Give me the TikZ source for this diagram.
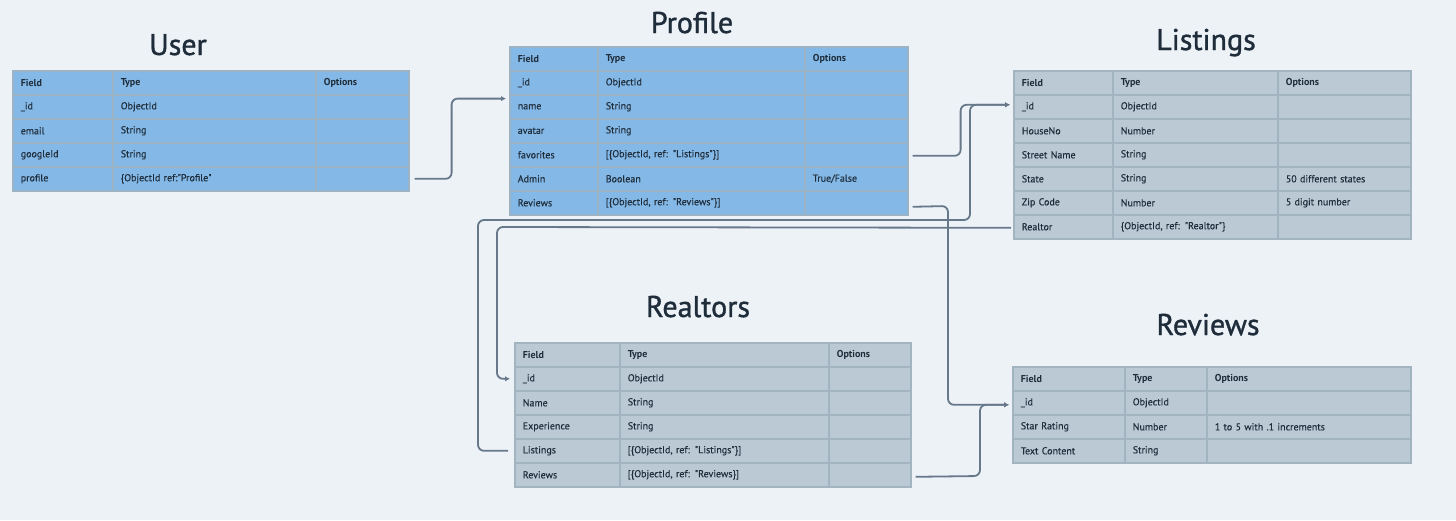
\documentclass[tikz,border=0pt]{standalone}
\usepackage{fontspec}
\setmainfont{PT Sans}
\newfontfamily\titlefont[FakeBold=1.2]{PT Sans}
\newfontfamily\cellfont[FakeBold=0.25]{PT Sans}
\usetikzlibrary{arrows.meta}
\definecolor{bgc}{HTML}{EDF2F7}
\definecolor{bluecell}{HTML}{84B8E6}
\definecolor{blueline}{HTML}{9CB3C6}
\definecolor{greycell}{HTML}{BBC9D4}
\definecolor{greyline}{HTML}{A3B4C1}
\definecolor{conncol}{HTML}{66788A}
\definecolor{txt}{HTML}{1F2D3B}
\newcommand\settable[4]{%
  \def\xa{#1}\def\xb{#2}\def\xc{#3}%
  \pgfmathsetmacro\wa{#2-#1-16}%
  \pgfmathsetmacro\wb{#3-#2-16}%
  \pgfmathsetmacro\wc{#4-#3-16}}
\newcommand\mkrow[5]{%
  \node[cell, text width=\wa pt] (#1a) at (\xa,#2) {#3};
  \node[cell, text width=\wb pt] (#1b) at (\xb,#2) {#4};
  \node[cell, text width=\wc pt] (#1c) at (\xc,#2) {#5};}
\begin{document}
\begin{tikzpicture}[x=1pt,y=-1pt,
  cell/.style={draw=cellline, fill=cellfill, line width=1.6pt, anchor=north west,
    minimum height=24pt, inner xsep=8pt, inner ysep=0pt, align=left,
    text=txt, font=\cellfont\fontsize{10}{12}\selectfont},
  hcell/.style={cell, font=\fontsize{10}{12}\selectfont\bfseries},
  title/.style={anchor=base, text=txt, font=\titlefont\fontsize{30}{32}\selectfont, inner sep=0pt},
  conn/.style={draw=conncol, line width=1.8pt, rounded corners=6pt},
  arr/.style={conn, -{Latex[length=5pt,width=5.5pt]}},
]
\fill[bgc] (0,0) rectangle (1456,520);
\useasboundingbox (0,0) rectangle (1456,520);

% ---------- User ----------
\colorlet{cellfill}{bluecell}\colorlet{cellline}{blueline}
\node[title] (usrT) at (178,55) {User};
\settable{12}{112}{315}{408}
\node[hcell, text width=\wa pt] (usr-ha) at (\xa,70) {Field};
\node[hcell, text width=\wb pt] (usr-hb) at (\xb,70) {Type};
\node[hcell, text width=\wc pt] (usr-hc) at (\xc,70) {Options};
\mkrow{usr-id}{94}{\_id}{ObjectId}{}
\mkrow{usr-em}{118}{email}{String}{}
\mkrow{usr-go}{142}{googleId}{String}{}
\mkrow{usr-pr}{166}{profile}{\{ObjectId ref:"Profile"}{}

% ---------- Profile ----------
\node[title] (proT) at (692,33) {Profile};
\settable{509}{597}{804}{907}
\node[hcell, text width=\wa pt] (pro-ha) at (\xa,46) {Field};
\node[hcell, text width=\wb pt] (pro-hb) at (\xb,46) {Type};
\node[hcell, text width=\wc pt] (pro-hc) at (\xc,46) {Options};
\mkrow{pro-id}{70}{\_id}{ObjectId}{}
\mkrow{pro-na}{94}{name}{String}{}
\mkrow{pro-av}{118}{avatar}{String}{}
\mkrow{pro-fa}{142}{favorites}{[\{ObjectId, ref: "Listings"\}]}{}
\mkrow{pro-ad}{166}{Admin}{Boolean}{True/False}
\mkrow{pro-re}{190}{Reviews}{[\{ObjectId, ref: "Reviews"\}]}{}

% ---------- Listings ----------
\colorlet{cellfill}{greycell}\colorlet{cellline}{greyline}
\node[title] (lisT) at (1206,50) {Listings};
\settable{1013}{1112}{1277}{1410}
\node[hcell, text width=\wa pt] (lis-ha) at (\xa,70) {Field};
\node[hcell, text width=\wb pt] (lis-hb) at (\xb,70) {Type};
\node[hcell, text width=\wc pt] (lis-hc) at (\xc,70) {Options};
\mkrow{lis-id}{94}{\_id}{ObjectId}{}
\mkrow{lis-ho}{118}{HouseNo}{Number}{}
\mkrow{lis-st}{142}{Street Name}{String}{}
\mkrow{lis-sa}{166}{State}{String}{50 different states}
\mkrow{lis-zi}{190}{Zip Code}{Number}{5 digit number}
\mkrow{lis-re}{214}{Realtor}{\{ObjectId, ref: "Realtor"\}}{}

% ---------- Realtors ----------
\node[title] (reaT) at (698,317) {Realtors};
\settable{514}{619}{828}{910}
\node[hcell, text width=\wa pt] (rea-ha) at (\xa,342) {Field};
\node[hcell, text width=\wb pt] (rea-hb) at (\xb,342) {Type};
\node[hcell, text width=\wc pt] (rea-hc) at (\xc,342) {Options};
\mkrow{rea-id}{366}{\_id}{ObjectId}{}
\mkrow{rea-na}{390}{Name}{String}{}
\mkrow{rea-ex}{414}{Experience}{String}{}
\mkrow{rea-li}{438}{Listings}{[\{ObjectId, ref: "Listings"\}]}{}
\mkrow{rea-re}{462}{Reviews}{[\{ObjectId, ref: "Reviews\}]}{}

% ---------- Reviews ----------
\node[title] (revT) at (1208,335) {Reviews};
\settable{1012}{1124}{1206}{1410}
\node[hcell, text width=\wa pt] (rev-ha) at (\xa,366) {Field};
\node[hcell, text width=\wb pt] (rev-hb) at (\xb,366) {Type};
\node[hcell, text width=\wc pt] (rev-hc) at (\xc,366) {Options};
\mkrow{rev-id}{390}{\_id}{ObjectId}{}
\mkrow{rev-sr}{414}{Star Rating}{Number}{1 to 5 with .1 increments}
\mkrow{rev-tc}{438}{Text Content}{String}{}

% ---------- Connectors ----------
\draw[arr] ([xshift=5pt]usr-prc.east) -- ++(37,0) |- ([xshift=-3pt,yshift=-3pt]pro-ida.south west);
\draw[arr] ([xshift=4pt,yshift=-1pt]pro-fac.east) -- ++(48,0) |- ([xshift=-3pt,yshift=2pt]lis-ida.west);
\draw[arr] ([xshift=-6pt]rea-lia.west) -| (478,220) -- (970,220) |- ([xshift=-3pt,yshift=2pt]lis-ida.west);
\draw[arr] ([xshift=-2pt,yshift=-1pt]lis-rea.west) -- (497,227) |- ([xshift=-4pt]rea-ida.west);
\draw[arr] ([xshift=4pt,yshift=-4pt]pro-rec.east) -- (948,206) |- ([xshift=-3pt,yshift=-2pt]rev-ida.west);
\draw[arr] ([xshift=4pt,yshift=-2pt]rea-rec.east) -- (980,476) |- ([xshift=-3pt,yshift=-2pt]rev-ida.west);
\end{tikzpicture}
\end{document}
